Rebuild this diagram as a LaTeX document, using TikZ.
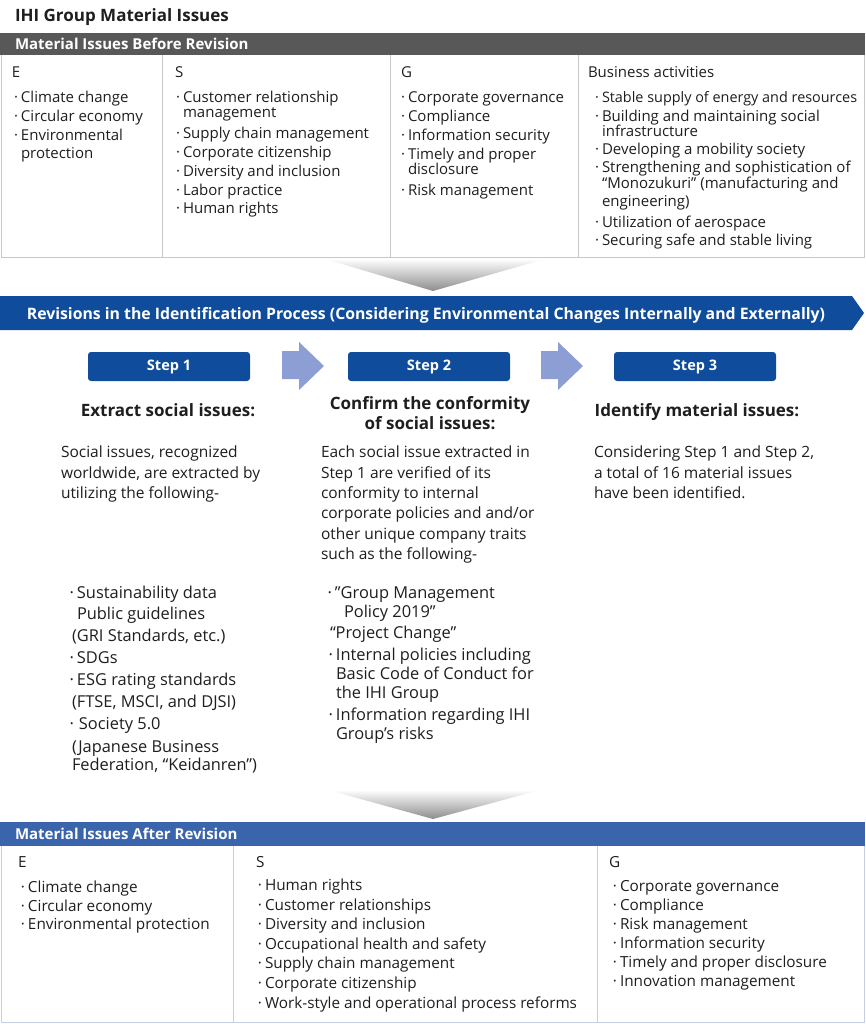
\documentclass[tikz,border=0pt]{standalone}
\usepackage{fontspec}
\setmainfont{Open Sans}
\definecolor{hdrgray}{RGB}{88,88,88}
\definecolor{ihiblue}{RGB}{16,76,156}
\definecolor{afterblue}{RGB}{58,100,172}
\definecolor{arrowblue}{RGB}{140,158,212}
\definecolor{linegray}{RGB}{200,200,200}
\definecolor{lineblue}{RGB}{196,208,226}
\definecolor{txtc}{RGB}{30,30,30}
\newcommand\bu{\llap{\textperiodcentered\hspace{3pt}}}
\newcommand\fsTab{\fontsize{15}{18}\selectfont}
\newcommand\fsAfter{\fontsize{15.3}{18}\selectfont}
\newcommand\fsStep{\fontsize{15.5}{18}\selectfont}
\newcommand\fsList{\fontsize{16.4}{19}\selectfont}
\newcommand\fsHead{\bfseries\fontsize{17}{20}\selectfont}
\begin{document}
\begin{tikzpicture}[x=1pt,y=-1pt,
  txt/.style={anchor=base west,inner sep=0pt,outer sep=0pt,font=\fsTab,text=txtc},
  ctxt/.style={anchor=base,inner sep=0pt,outer sep=0pt,font=\fsHead,text=txtc},
  stepbox/.style={fill=ihiblue,rounded corners=3pt,minimum width=162pt,minimum height=29pt,inner sep=0pt,text=white,font=\bfseries\fontsize{14.5}{17}\selectfont},
  flowarrow/.style={fill=arrowblue},
  chevron/.style={top color=white,bottom color=black!45,draw=none}]
\useasboundingbox (0,0) rectangle (865,1024);
% ---------- title ----------
\node[txt,font=\bfseries\fontsize{17}{20}\selectfont] (title) at (15,22) {IHI Group Material Issues};
% ---------- before revision ----------
\fill[hdrgray] (0,33) rectangle (865,55);
\node[txt,text=white,font=\bfseries\fontsize{15}{18}\selectfont] (beforehdr) at (15,49.5) {Material Issues Before Revision};
\draw[linegray,line width=0.8pt] (1,55) -- (1,257) -- (864,257) -- (864,55);
\draw[linegray,line width=0.8pt] (162,55) -- (162,257) (390,55) -- (390,257) (578,55) -- (578,257);
\node[txt] (bE) at (12,78) {E};
\node[txt] (bS) at (175,78) {S};
\node[txt] (bG) at (401,78) {G};
\node[txt] (bB) at (588,78) {Business activities};
\foreach \x/\y/\t [count=\i] in {
  21/103/{\bu Climate change}, 21/122/{\bu Circular economy}, 21/141/{\bu Environmental}, 21/159/{protection},
  183/103/{\bu Customer relationship}, 183/118/{management}, 183/139/{\bu Supply chain management},
  183/158/{\bu Corporate citizenship}, 183/177/{\bu Diversity and inclusion}, 183/196/{\bu Labor practice},
  183/214/{\bu Human rights},
  408/103/{\bu Corporate governance}, 408/122/{\bu Compliance}, 408/141/{\bu Information security},
  408/160/{\bu Timely and proper}, 408/175/{disclosure}, 408/196/{\bu Risk management},
  602/103/{\fontsize{14.4}{17}\selectfont\bu Stable supply of energy and resources}, 602/122/{\bu Building and maintaining social},
  602/137/{infrastructure}, 602/155/{\bu Developing a mobility society},
  602/173/{\bu Strengthening and sophistication of}, 602/189/{“Monozukuri” (manufacturing and},
  602/207/{engineering)}, 602/227/{\bu Utilization of aerospace}, 602/245/{\bu Securing safe and stable living}}
  \node[txt] (bl\i) at (\x,\y) {\t};
% ---------- chevron 1 ----------
\shade[chevron] (325,259) -- (545,259) -- (433,291) -- cycle;
% ---------- banner ----------
\fill[ihiblue] (0,296) -- (852,296) -- (864,313) -- (852,330) -- (0,330) -- cycle;
\node[anchor=base,inner sep=0pt,text=white,font=\bfseries\fontsize{15.8}{19}\selectfont] (banner) at (426,319)
  {Revisions in the Identification Process (Considering Environmental Changes Internally and Externally)};
% ---------- steps ----------
\node[stepbox] (s1) at (169,366.5) {Step 1};
\node[stepbox] (s2) at (429,366.5) {Step 2};
\node[stepbox] (s3) at (695,366.5) {Step 3};
\fill[flowarrow] (282,351) -- (299,351) -- (299,342) -- (324,366) -- (299,390) -- (299,379) -- (282,379) -- cycle;
\fill[flowarrow] (541,351) -- (558,351) -- (558,342) -- (583,366) -- (558,390) -- (558,379) -- (541,379) -- cycle;
\node[ctxt] (h1) at (168,416) {Extract social issues:};
\node[ctxt] (h2a) at (430,409) {Confirm the conformity};
\node[ctxt] (h2b) at (430,429) {of social issues:};
\node[ctxt] (h3) at (697,416) {Identify material issues:};
\foreach \x/\y/\t [count=\i] in {
  61/457/{Social issues, recognized}, 61/478/{worldwide, are extracted by}, 61/498/{utilizing the following-},
  321/457/{Each social issue extracted in}, 321/478/{Step 1 are verified of its}, 321/498/{conformity to internal},
  321/518/{corporate policies and and/or}, 321/539/{other unique company traits}, 321/559/{such as the following-},
  594/457/{Considering Step 1 and Step 2,}, 594/478/{a total of 16 material issues}, 594/498/{have been identified.}}
  \node[txt,font=\fsStep] (body\i) at (\x,\y) {\t};
\foreach \x/\y/\t [count=\i] in {
  77/598/{\bu Sustainability data}, 77/619/{Public guidelines}, 72/641/{(GRI Standards, etc.)},
  77/663/{\bu SDGs}, 77/685/{\bu ESG rating standards}, 72/707/{(FTSE, MSCI, and DJSI)},
  79/729/{\llap{\textperiodcentered\hspace{5pt}}Society 5.0}, 72/752/{(Japanese Business}, 72/770/{Federation, “Keidanren”)},
  335/598/{\bu ”Group Management}, 344/617/{Policy 2019”}, 330/638/{“Project Change”},
  336/660/{\bu Internal policies including}, 336/679/{Basic Code of Conduct for}, 336/698/{the IHI Group},
  336/720/{\bu Information regarding IHI}, 336/739/{Group’s risks}}
  \node[txt,font=\fsList] (list\i) at (\x,\y) {\t};
% ---------- chevron 2 ----------
\shade[chevron] (328,790) -- (540,790) -- (433,819) -- cycle;
% ---------- after revision ----------
\fill[afterblue] (0,822) rectangle (865,846);
\node[txt,text=white,font=\bfseries\fontsize{15}{18}\selectfont] (afterhdr) at (15,839.5) {Material Issues After Revision};
\draw[lineblue,line width=0.8pt] (1,846) -- (1,1022) -- (864,1022) -- (864,846);
\draw[lineblue,line width=0.8pt] (233,846) -- (233,1022) (597,846) -- (597,1022);
\node[txt,font=\fsAfter] (aE) at (18,867) {E};
\node[txt,font=\fsAfter] (aS) at (256,867) {S};
\node[txt,font=\fsAfter] (aG) at (609,867) {G};
\foreach \x/\y/\t [count=\i] in {
  28/892/{\bu Climate change}, 28/911/{\bu Circular economy}, 28/929/{\bu Environmental protection},
  265/890/{\bu Human rights}, 265/910/{\bu Customer relationships}, 265/929/{\bu Diversity and inclusion},
  265/949/{\bu Occupational health and safety}, 265/968/{\bu Supply chain management},
  265/988/{\bu Corporate citizenship}, 265/1008/{\bu Work-style and operational process reforms},
  620/891/{\bu Corporate governance}, 620/910/{\bu Compliance}, 620/929/{\bu Risk management},
  620/948/{\bu Information security}, 620/967/{\bu Timely and proper disclosure}, 620/986/{\bu Innovation management}}
  \node[txt,font=\fsAfter] (al\i) at (\x,\y) {\t};
\end{tikzpicture}
\end{document}
